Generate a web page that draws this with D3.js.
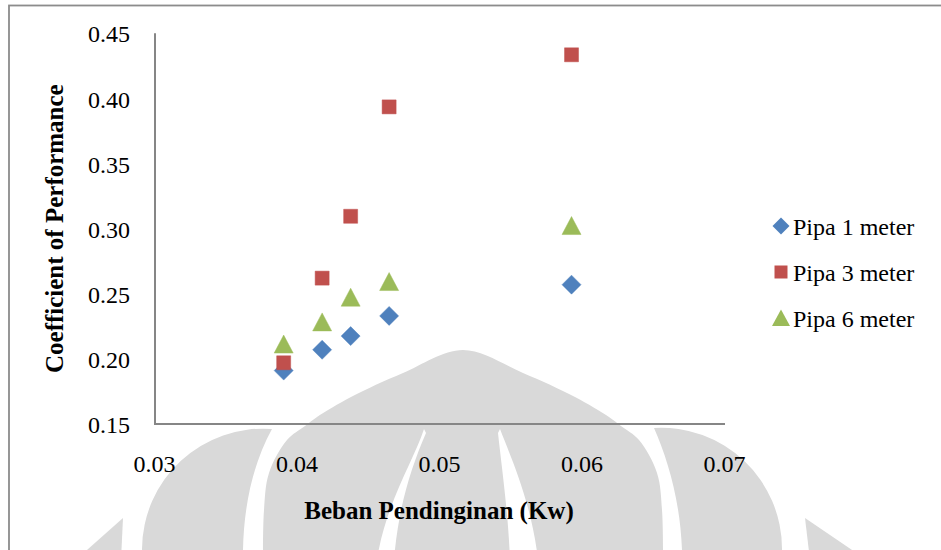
<!DOCTYPE html>
<html>
<head>
<meta charset="utf-8">
<script src="https://cdn.jsdelivr.net/npm/d3@7"></script>
<style>
  body { margin: 0; background: #fff; }
  text { font-family: "Liberation Serif", "Times New Roman", serif; fill: #000; }
</style>
</head>
<body>
<svg id="chart"></svg>
<script>
var width = 941,
    height = 550,
    margin = {left: 154, right: 217, top: 33.3, bottom: 126};

// data
var beban = [0.0391, 0.0418, 0.0438, 0.0465, 0.0593];
var pipa1 = [0.191, 0.207, 0.2175, 0.233, 0.257];
var pipa3 = [0.197, 0.262, 0.3095, 0.3935, 0.4335];
var pipa6 = [0.211, 0.228, 0.247, 0.259, 0.302];
var seriesNames = ["Pipa 1 meter", "Pipa 3 meter", "Pipa 6 meter"];
var xTicks = [0.03, 0.04, 0.05, 0.06, 0.07];
var yTicks = [0.15, 0.20, 0.25, 0.30, 0.35, 0.40, 0.45];

var colors = ["#4f81bd", "#c0504d", "#9bbb59"],
    shapes = ["diamond", "square", "triangle"];

var series = [pipa1, pipa3, pipa6].map(function(vals, i) {
    return {
        name: seriesNames[i],
        color: colors[i],
        shape: shapes[i],
        points: vals.map(function(v, j) { return {x: beban[j], y: v}; })
    };
});

var svg = d3.select("#chart").attr("width", width).attr("height", height);

var x = d3.scaleLinear().domain([0.03, 0.07]).range([margin.left, width - margin.right]),
    y = d3.scaleLinear().domain([0.15, 0.45]).range([height - margin.bottom, margin.top]);

// marker paths, centred on the bounding box like Excel does
function markerPath(shape) {
    if (shape == "diamond") return "M0,-9.5L9.5,0L0,9.5L-9.5,0Z";
    if (shape == "square") return "M-7,-7H7V7H-7Z";
    return "M0,-9.5L9.5,8.5L-9.5,8.5Z";
}

// outer frame
svg.append("rect")
    .attr("x", 9).attr("y", 5.5)
    .attr("width", 950).attr("height", 560)
    .attr("fill", "none")
    .attr("stroke", "#8c8c8c")
    .attr("stroke-width", 1.8);

// background watermark (page logo)
var wm = svg.append("g").attr("fill", "#d9d9d9");
var cx = 463;
var domeProfile = [[350, 0], [373, 60], [397, 112], [417, 146], [426, 158], [440, 176], [473, 194], [510, 199], [560, 200]];
var domePts = domeProfile.slice().reverse().map(p => [cx - p[1], p[0]])
    .concat(domeProfile.slice(1).map(p => [cx + p[1], p[0]]));
wm.append("path")
    .attr("d", d3.line().curve(d3.curveCatmullRom)(domePts) + "Z");
// inner white slivers
wm.append("path").attr("fill", "#fff")
    .attr("d", "M424,429C414,460 385,505 377,560L394,560C398,510 410,470 426,433Z");
wm.append("path").attr("fill", "#fff")
    .attr("d", "M500,429C512,460 532,505 538,560L510,560C508,510 502,470 498,433Z");
// side crescents
wm.append("path")
    .attr("d", "M272,429A121,121 0 0 0 142,549L142,560L243,560L243,550C244,500 255,460 272,429Z");
wm.append("path")
    .attr("d", "M654,428A121,121 0 0 1 782,549L782,560L682,560L682,550C680,500 668,460 654,428Z");
// outermost wedges
wm.append("path").attr("d", "M123,518L87,550L87,560L121,560Z");
wm.append("path").attr("d", "M805,518L855,552L855,560L810,560Z");

// axes
var axisColor = "#868686";
svg.append("line")
    .attr("x1", x(0.03) + 1).attr("x2", x(0.03) + 1)
    .attr("y1", y(0.45)).attr("y2", y(0.15))
    .attr("stroke", axisColor).attr("stroke-width", 2);
svg.append("line")
    .attr("x1", x(0.03)).attr("x2", x(0.07) + 1)
    .attr("y1", y(0.15)).attr("y2", y(0.15))
    .attr("stroke", axisColor).attr("stroke-width", 2);

var yAxis = svg.append("g")
    .attr("transform", "translate(" + x(0.03) + ",0)")
    .call(d3.axisLeft(y).tickValues(yTicks).tickSize(0).tickPadding(24).tickFormat(d3.format(".2f")));
var xAxis = svg.append("g")
    .attr("transform", "translate(0," + y(0.15) + ")")
    .call(d3.axisBottom(x).tickValues(xTicks).tickSize(0).tickPadding(31).tickFormat(d3.format(".2f")));
[yAxis, xAxis].forEach(function(a) {
    a.select(".domain").remove();
    a.selectAll("text")
        .attr("font-family", "Liberation Serif")
        .attr("font-size", 24)
        .attr("fill", "#000");
});
yAxis.selectAll("text").attr("dy", "0.36em");

// axis titles
svg.append("text")
    .attr("x", (x(0.03) + x(0.07)) / 2)
    .attr("y", 519)
    .attr("text-anchor", "middle")
    .attr("font-size", 25)
    .attr("font-weight", "bold")
    .text("Beban Pendinginan (Kw)");

svg.append("text")
    .attr("transform", "translate(63," + (y(0.15) + y(0.45)) / 2 + ") rotate(-90)")
    .attr("text-anchor", "middle")
    .attr("font-size", 25)
    .attr("font-weight", "bold")
    .text("Coefficient of Performance");

// points
series.forEach(function(s) {
    svg.append("g").selectAll("path")
        .data(s.points)
        .join("path")
        .attr("d", markerPath(s.shape))
        .attr("transform", d => "translate(" + x(d.x) + "," + y(d.y) + ")")
        .attr("fill", s.color)
        .attr("stroke", s.color)
        .attr("stroke-width", 0.8)
        .attr("stroke-opacity", 0.6);
});

// legend
var legend = svg.append("g").attr("transform", "translate(781,226)");
var rows = legend.selectAll("g")
    .data(series)
    .join("g")
    .attr("transform", (d, i) => "translate(0," + i * 46 + ")");
rows.append("path")
    .attr("d", d => d.shape == "square" ? "M-6.5,-6.5H6.5V6.5H-6.5Z"
        : d.shape == "diamond" ? "M0,-8.5L8.5,0L0,8.5L-8.5,0Z" : "M0,-8.5L9,8L-9,8Z")
    .attr("fill", d => d.color);
rows.append("text")
    .attr("x", 12)
    .attr("y", 8.5)
    .attr("font-size", 24)
    .text(d => d.name);
</script>
</body>
</html>
